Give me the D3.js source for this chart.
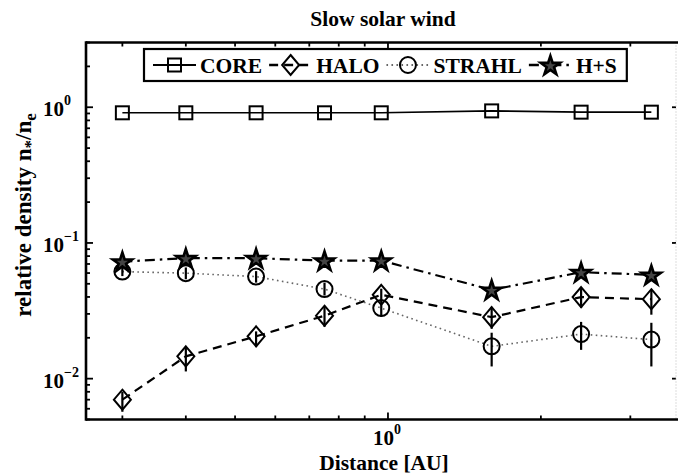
<!DOCTYPE html>
<html>
<head>
<meta charset="utf-8">
<script src="https://cdn.jsdelivr.net/npm/d3@7"></script>
<style>
  body { margin: 0; background: #fff; }
  svg { display: block; font-family: "Liberation Serif", "Times New Roman", serif; font-weight: bold; }
</style>
</head>
<body>
<svg id="chart" width="678" height="475"></svg>
<script>
// distance bins [AU]
const distance = [0.3, 0.4, 0.55, 0.75, 0.97, 1.6, 2.4, 3.3];

// relative densities n*/ne
const core   = [0.91, 0.91, 0.91, 0.91, 0.91, 0.94, 0.92, 0.92];
const halo   = [0.0070, 0.0146, 0.0205, 0.0291, 0.0415, 0.0284, 0.0399, 0.0385];
const strahl = [0.0615, 0.0599, 0.0565, 0.0457, 0.0331, 0.0173, 0.0213, 0.0194];
const hs     = [0.0729, 0.0772, 0.0772, 0.0741, 0.0741, 0.0451, 0.0609, 0.0582];

// error bar ends (low / high)
const haloLo   = [0.0057, 0.0113, 0.0172, 0.0241, 0.0370, 0.0233, 0.0333, 0.0296];
const haloHi   = [0.0080, 0.0172, 0.0223, 0.0338, 0.0460, 0.0338, 0.0467, 0.0451];
const strahlLo = [0.0570, 0.0540, 0.0510, 0.0410, 0.0286, 0.0123, 0.0163, 0.0123];
const strahlHi = [0.0660, 0.0660, 0.0620, 0.0510, 0.0381, 0.0218, 0.0262, 0.0258];

const legendNames = ['CORE', 'HALO', 'STRAHL', 'H+S'];

const width = 678, height = 475;
const plotL = 86, plotR = 676, plotT = 42.5, plotB = 419.5;

const svg = d3.select('#chart');

const x = d3.scaleLog().domain([0.2544, 3.69]).range([plotL, plotR]);
const y = d3.scaleLog().domain([0.005, 3]).range([plotB, plotT]);

const isMajor = v => Math.abs(Math.log10(v) - Math.round(Math.log10(v))) < 1e-9;
const expText = v => { const e = Math.round(Math.log10(v)); return e < 0 ? '\u2212' + (-e) : String(e); };

// ---- ticks
const xt = x.ticks();
const yt = y.ticks();

const ticks = svg.append('g').attr('stroke', '#000').attr('stroke-width', 1.8);
xt.forEach(v => {
    const len = isMajor(v) ? 7 : 4;
    ticks.append('line').attr('x1', x(v)).attr('x2', x(v)).attr('y1', plotB).attr('y2', plotB - len);
    ticks.append('line').attr('x1', x(v)).attr('x2', x(v)).attr('y1', plotT).attr('y2', plotT + len);
});
yt.forEach(v => {
    const len = isMajor(v) ? 7 : 4;
    ticks.append('line').attr('x1', plotL).attr('x2', plotL + len).attr('y1', y(v)).attr('y2', y(v));
    if (isMajor(v))
        ticks.append('line').attr('x1', plotR).attr('x2', plotR - 4).attr('y1', y(v)).attr('y2', y(v));
});

// ---- frame
svg.append('line').attr('x1', plotR).attr('x2', plotR).attr('y1', plotT).attr('y2', plotB)
    .attr('stroke', '#bbb').attr('stroke-width', 1).attr('stroke-dasharray', '1,2');
const frame = svg.append('g').attr('stroke', '#000').attr('stroke-width', 2.6).attr('fill', 'none');
frame.append('line').attr('x1', plotL).attr('x2', width).attr('y1', plotT).attr('y2', plotT);
frame.append('line').attr('x1', plotL).attr('x2', width).attr('y1', plotB).attr('y2', plotB);
frame.append('line').attr('x1', plotL).attr('x2', plotL).attr('y1', plotT - 1.3).attr('y2', plotB + 1.3);

// ---- tick labels
yt.filter(isMajor).forEach(v => {
    const t = svg.append('text').attr('x', 43).attr('y', y(v) + 9).attr('font-size', 21);
    t.append('tspan').text('10');
    t.append('tspan').attr('dy', -11).attr('font-size', 14).text(expText(v));
});
xt.filter(isMajor).forEach(v => {
    const t = svg.append('text').attr('x', x(v) - 1).attr('y', 445).attr('font-size', 21)
        .attr('text-anchor', 'middle');
    t.append('tspan').text('10');
    t.append('tspan').attr('dy', -11).attr('font-size', 14).text(expText(v));
});

// ---- axis titles
svg.append('text').attr('x', 383).attr('y', 26).attr('text-anchor', 'middle')
    .attr('font-size', 21.5).text('Slow solar wind');
svg.append('text').attr('x', 384).attr('y', 470).attr('text-anchor', 'middle')
    .attr('font-size', 21.5).text('Distance [AU]');
const yl = svg.append('text').attr('transform', 'translate(31,215) rotate(-90)')
    .attr('text-anchor', 'middle').attr('font-size', 23);
yl.append('tspan').text('relative density n');
yl.append('tspan').attr('dy', 5).attr('font-size', 17).text('*');
yl.append('tspan').attr('dy', -5).text('/n');
yl.append('tspan').attr('dy', 5).attr('font-size', 17).text('e');

// ---- markers
const marker = (g, shape, cx, cy) => {
    if (shape === 'square')
        g.append('rect').attr('x', cx - 6.5).attr('y', cy - 6.5).attr('width', 13).attr('height', 13);
    else if (shape === 'diamond')
        g.append('path').attr('d', `M${cx},${cy - 10}L${cx + 8.5},${cy}L${cx},${cy + 10}L${cx - 8.5},${cy}Z`);
    else if (shape === 'circle')
        g.append('circle').attr('cx', cx).attr('cy', cy).attr('r', 8);
    else
        g.append('path').attr('transform', `translate(${cx},${cy + 1})`)
            .attr('stroke-width', 2.6).attr('fill', '#444')
            .attr('d', d3.symbol(d3.symbolStar, 115)());
};

const series = [
    { name: legendNames[0], values: core,   shape: 'square',  dash: null,         w: 1.6, color: '#000' },
    { name: legendNames[1], values: halo,   shape: 'diamond', dash: '9,6',        w: 2.2, color: '#000', lo: haloLo, hi: haloHi },
    { name: legendNames[2], values: strahl, shape: 'circle',  dash: '1.6,3.4',    w: 1.6, color: '#666', lo: strahlLo, hi: strahlHi },
    { name: legendNames[3], values: hs,     shape: 'star',    dash: '10,5,2.5,5', w: 2.2, color: '#000' }
];

const line = d3.line().x(d => x(d[0])).y(d => y(d[1]));

series.forEach(s => {
    svg.append('path').datum(distance.map((d, i) => [d, s.values[i]]))
        .attr('d', line).attr('fill', 'none').attr('stroke', s.color)
        .attr('stroke-width', s.w).attr('stroke-dasharray', s.dash);
});

series.forEach(s => {
    const g = svg.append('g').attr('fill', 'none').attr('stroke', '#000').attr('stroke-width', 2);
    if (s.lo) {
        distance.forEach((d, i) => {
            g.append('line').attr('x1', x(d)).attr('x2', x(d))
                .attr('y1', y(s.lo[i])).attr('y2', y(s.hi[i])).attr('stroke-width', 2.2);
        });
    }
    distance.forEach((d, i) => marker(g, s.shape, x(d), y(s.values[i])));
});

// ---- legend
const leg = svg.append('g');
const box = leg.append('rect').attr('y', 49).attr('height', 32).attr('fill', '#fff')
    .attr('stroke', '#000').attr('stroke-width', 2.2);
let cx = 153;
series.forEach(s => {
    leg.append('line').attr('x1', cx).attr('x2', cx + 43).attr('y1', 65).attr('y2', 65)
        .attr('stroke', s.color).attr('stroke-width', s.w + 0.4).attr('stroke-dasharray', s.dash);
    const mg = leg.append('g').attr('fill', 'none').attr('stroke', '#000').attr('stroke-width', 2);
    marker(mg, s.shape, cx + 21.5, 65);
    const t = leg.append('text').attr('x', cx + 47).attr('y', 73).attr('font-size', 21.5).text(s.name);
    cx += 47 + t.node().getComputedTextLength() + 7;
});
box.attr('x', 144).attr('width', cx + 3 - 144);
</script>
</body>
</html>
